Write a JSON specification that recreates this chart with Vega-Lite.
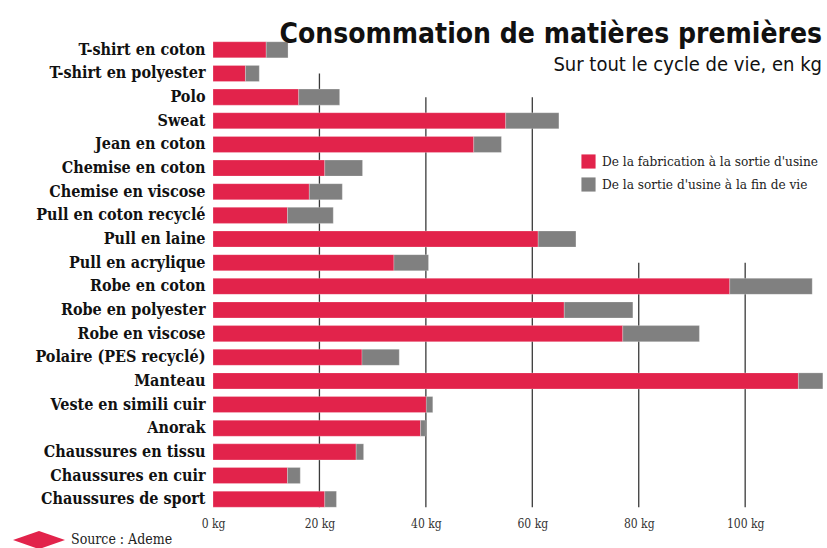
{
  "$schema": "https://vega.github.io/schema/vega-lite/v6.json",
  "autosize": {"type": "none"},
  "padding": {"left": 213, "top": 38, "right": 2, "bottom": 37},
  "width": 612,
  "height": 473,
  "background": "white",
  "title": {
    "text": "Consommation de matières premières",
    "subtitle": "Sur tout le cycle de vie, en kg",
    "anchor": "end",
    "frame": "group",
    "orient": "top",
    "offset": -37,
    "dx": -3,
    "font": "DejaVu Sans Condensed",
    "fontSize": 28,
    "fontWeight": "bold",
    "color": "#111111",
    "subtitleFont": "DejaVu Sans Condensed",
    "subtitleFontSize": 20,
    "subtitleColor": "#111111",
    "subtitlePadding": 6
  },
  "datasets": {
    "bars": [
      {"item": "T-shirt en coton", "stage": "De la fabrication à la sortie d'usine", "value": 10.0},
      {"item": "T-shirt en coton", "stage": "De la sortie d'usine à la fin de vie", "value": 4.1},
      {"item": "T-shirt en polyester", "stage": "De la fabrication à la sortie d'usine", "value": 6.1},
      {"item": "T-shirt en polyester", "stage": "De la sortie d'usine à la fin de vie", "value": 2.6},
      {"item": "Polo", "stage": "De la fabrication à la sortie d'usine", "value": 16.1},
      {"item": "Polo", "stage": "De la sortie d'usine à la fin de vie", "value": 7.7},
      {"item": "Sweat", "stage": "De la fabrication à la sortie d'usine", "value": 55.0},
      {"item": "Sweat", "stage": "De la sortie d'usine à la fin de vie", "value": 10.0},
      {"item": "Jean en coton", "stage": "De la fabrication à la sortie d'usine", "value": 49.0},
      {"item": "Jean en coton", "stage": "De la sortie d'usine à la fin de vie", "value": 5.2},
      {"item": "Chemise en coton", "stage": "De la fabrication à la sortie d'usine", "value": 21.0},
      {"item": "Chemise en coton", "stage": "De la sortie d'usine à la fin de vie", "value": 7.1},
      {"item": "Chemise en viscose", "stage": "De la fabrication à la sortie d'usine", "value": 18.1},
      {"item": "Chemise en viscose", "stage": "De la sortie d'usine à la fin de vie", "value": 6.2},
      {"item": "Pull en coton recyclé", "stage": "De la fabrication à la sortie d'usine", "value": 14.0},
      {"item": "Pull en coton recyclé", "stage": "De la sortie d'usine à la fin de vie", "value": 8.6},
      {"item": "Pull en laine", "stage": "De la fabrication à la sortie d'usine", "value": 61.1},
      {"item": "Pull en laine", "stage": "De la sortie d'usine à la fin de vie", "value": 7.1},
      {"item": "Pull en acrylique", "stage": "De la fabrication à la sortie d'usine", "value": 34.0},
      {"item": "Pull en acrylique", "stage": "De la sortie d'usine à la fin de vie", "value": 6.5},
      {"item": "Robe en coton", "stage": "De la fabrication à la sortie d'usine", "value": 97.1},
      {"item": "Robe en coton", "stage": "De la sortie d'usine à la fin de vie", "value": 15.5},
      {"item": "Robe en polyester", "stage": "De la fabrication à la sortie d'usine", "value": 66.0},
      {"item": "Robe en polyester", "stage": "De la sortie d'usine à la fin de vie", "value": 12.9},
      {"item": "Robe en viscose", "stage": "De la fabrication à la sortie d'usine", "value": 77.0},
      {"item": "Robe en viscose", "stage": "De la sortie d'usine à la fin de vie", "value": 14.4},
      {"item": "Polaire (PES recyclé)", "stage": "De la fabrication à la sortie d'usine", "value": 28.0},
      {"item": "Polaire (PES recyclé)", "stage": "De la sortie d'usine à la fin de vie", "value": 7.0},
      {"item": "Manteau", "stage": "De la fabrication à la sortie d'usine", "value": 110.0},
      {"item": "Manteau", "stage": "De la sortie d'usine à la fin de vie", "value": 4.6},
      {"item": "Veste en simili cuir", "stage": "De la fabrication à la sortie d'usine", "value": 40.1},
      {"item": "Veste en simili cuir", "stage": "De la sortie d'usine à la fin de vie", "value": 1.2},
      {"item": "Anorak", "stage": "De la fabrication à la sortie d'usine", "value": 39.0},
      {"item": "Anorak", "stage": "De la sortie d'usine à la fin de vie", "value": 0.9},
      {"item": "Chaussures en tissu", "stage": "De la fabrication à la sortie d'usine", "value": 26.9},
      {"item": "Chaussures en tissu", "stage": "De la sortie d'usine à la fin de vie", "value": 1.4},
      {"item": "Chaussures en cuir", "stage": "De la fabrication à la sortie d'usine", "value": 14.0},
      {"item": "Chaussures en cuir", "stage": "De la sortie d'usine à la fin de vie", "value": 2.4},
      {"item": "Chaussures de sport", "stage": "De la fabrication à la sortie d'usine", "value": 21.0},
      {"item": "Chaussures de sport", "stage": "De la sortie d'usine à la fin de vie", "value": 2.2}
    ],
    "grid": [
      {"gx": 20, "from": "T-shirt en polyester", "to": "Chaussures de sport"},
      {"gx": 40, "from": "Polo", "to": "Chaussures de sport"},
      {"gx": 60, "from": "Polo", "to": "Chaussures de sport"},
      {"gx": 80, "from": "Pull en acrylique", "to": "Chaussures de sport"},
      {"gx": 100, "from": "Pull en acrylique", "to": "Chaussures de sport"}
    ]
  },
  "layer": [
    {
      "data": {"name": "grid"},
      "mark": {"type": "rule", "color": "#3a3a3a", "strokeWidth": 1.3},
      "encoding": {
        "x": {
          "field": "gx",
          "type": "quantitative",
          "scale": {"domain": [0, 115], "nice": false, "zero": true},
          "axis": {
            "title": null,
            "ticks": false,
            "domain": false,
            "grid": false,
            "values": [0, 20, 40, 60, 80, 100],
            "labelExpr": "datum.value + ' kg'",
            "labelFont": "DejaVu Serif Condensed",
            "labelFontSize": 12,
            "labelColor": "#333333",
            "labelPadding": 7,
            "labelFlush": false
          }
        },
        "y": {"field": "from", "type": "nominal"},
        "y2": {"field": "to", "bandPosition": 1}
      }
    },
    {
      "data": {"name": "bars"},
      "mark": {"type": "bar", "stroke": "#ffffff", "strokeOpacity": 0.4, "strokeWidth": 0.6},
      "encoding": {
        "x": {"field": "value", "type": "quantitative", "stack": "zero"},
        "y": {"field": "item", "type": "nominal"},
        "color": {
          "field": "stage",
          "type": "nominal",
          "scale": {
            "domain": ["De la fabrication à la sortie d'usine", "De la sortie d'usine à la fin de vie"],
            "range": ["#E2234B", "#808080"]
          },
          "legend": {
            "title": null,
            "orient": "none",
            "legendX": 368,
            "legendY": 116,
            "symbolType": "square",
            "symbolSize": 200,
            "symbolStrokeWidth": 0,
            "rowPadding": 8,
            "labelFont": "DejaVu Serif Condensed",
            "labelFontSize": 13.5,
            "labelColor": "#222222",
            "labelLimit": 400,
            "labelOffset": 6
          }
        },
        "order": {"field": "stage", "sort": "ascending"}
      }
    },
    {
      "data": {"name": "bars"},
      "mark": {"type": "point", "filled": true, "color": "#E2234B", "opacity": 0},
      "encoding": {
        "x": {"field": "value", "type": "quantitative"},
        "y": {"field": "item", "type": "nominal"},
        "shape": {
          "datum": "Source : Ademe",
          "scale": {"range": ["M-1,0L0,-0.35L1,0L0,0.35Z"]},
          "legend": {
            "title": null,
            "orient": "none",
            "legendX": -200,
            "legendY": 476,
            "symbolSize": 2704,
            "symbolFillColor": "#E2234B",
            "symbolStrokeWidth": 0,
            "symbolOpacity": 1,
            "labelFont": "DejaVu Serif Condensed",
            "labelFontSize": 14,
            "labelColor": "#222222",
            "labelOffset": 6
          }
        }
      }
    }
  ],
  "resolve": {"legend": {"color": "independent", "shape": "independent"}},
  "encoding": {
    "y": {
      "field": "item",
      "type": "nominal",
      "scale": {
        "domain": ["T-shirt en coton", "T-shirt en polyester", "Polo", "Sweat", "Jean en coton", "Chemise en coton", "Chemise en viscose", "Pull en coton recyclé", "Pull en laine", "Pull en acrylique", "Robe en coton", "Robe en polyester", "Robe en viscose", "Polaire (PES recyclé)", "Manteau", "Veste en simili cuir", "Anorak", "Chaussures en tissu", "Chaussures en cuir", "Chaussures de sport"]
      }
    }
  },
  "config": {
    "view": {"stroke": null},
    "scale": {"bandPaddingInner": 0.32, "bandPaddingOuter": 0.16},
    "axisY": {
      "title": null,
      "ticks": false,
      "domain": false,
      "grid": false,
      "labelFont": "DejaVu Serif Condensed",
      "labelFontWeight": "bold",
      "labelFontSize": 16,
      "labelColor": "#111111",
      "labelPadding": 8,
      "labelLimit": 250
    }
  }
}
